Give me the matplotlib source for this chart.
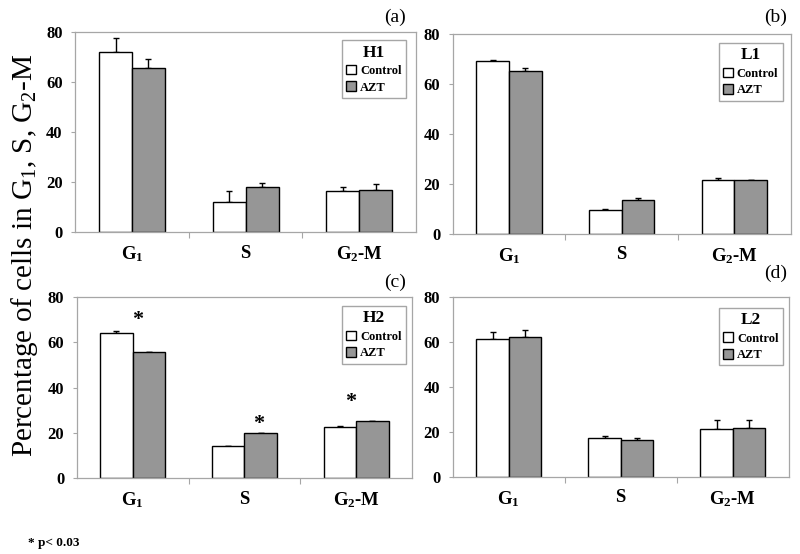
import numpy as np
import matplotlib
matplotlib.use("Agg")
import matplotlib.pyplot as plt

plt.rcParams['font.family'] = ['Liberation Serif', 'DejaVu Serif']
plt.rcParams['mathtext.fontset'] = 'custom'
plt.rcParams['mathtext.rm'] = 'Liberation Serif'
plt.rcParams['mathtext.bf'] = 'Liberation Serif:bold'
plt.rcParams['mathtext.it'] = 'Liberation Serif:italic'

# phases on the x axis
phases = [r'$\mathbf{G_1}$', r'$\mathbf{S}$', r'$\mathbf{G_2}$-M']
panels = ['(a)', '(b)', '(c)', '(d)']
cell_lines = ['H1', 'L1', 'H2', 'L2']

# mean percentages, control vs AZT
control_mean = [
    [71.9, 12.0, 16.4],
    [69.2, 9.5, 21.7],
    [64.1, 14.1, 22.5],
    [61.3, 17.3, 21.3],
]
azt_mean = [
    [65.6, 18.0, 16.8],
    [65.2, 13.6, 21.7],
    [55.8, 19.9, 25.0],
    [62.1, 16.4, 21.8],
]
# upper error bars
control_err = [
    [5.7, 4.4, 1.6],
    [0.2, 0.5, 0.5],
    [1.0, 0.0, 0.7],
    [3.3, 0.8, 4.2],
]
azt_err = [
    [3.6, 1.5, 2.4],
    [1.3, 0.8, 0.0],
    [0.0, 0.0, 0.3],
    [3.1, 0.9, 3.7],
]

# significance stars in panel (c): (x position, y value)
star_x = [0.045, 1.125, 1.955]
star_y = [70.0, 24.0, 33.5]

yticks = [0, 20, 40, 60, 80]

grey_line = '#a6a6a6'
azt_color = '#969696'

fig = plt.figure(figsize=(8, 5.54), dpi=100)

# axes rectangles in figure fractions
rects = [
    [0.094, 0.581, 0.426, 0.361],
    [0.566, 0.578, 0.4225, 0.361],
    [0.096, 0.137, 0.419, 0.327],
    [0.566, 0.139, 0.420, 0.325],
]
legend_anchor = [(0.971, 0.96), (0.976, 0.955), (0.982, 0.95), (0.982, 0.94)]
label_pos = [(0.494, 0.969), (0.969, 0.969), (0.494, 0.491), (0.969, 0.506)]

w = 0.29
x = np.arange(len(phases))

for i in range(4):
    ax = fig.add_axes(rects[i])
    ax.bar(x - w / 2, control_mean[i], w, color='white', edgecolor='black',
           linewidth=1.0, label='Control', zorder=2)
    ax.bar(x + w / 2, azt_mean[i], w, color=azt_color, edgecolor='black',
           linewidth=1.0, label='AZT', zorder=2)
    ax.errorbar(x - w / 2, control_mean[i],
                yerr=[np.zeros(3), control_err[i]], fmt='none',
                ecolor='black', elinewidth=1.0, capsize=2, zorder=1)
    ax.errorbar(x + w / 2, azt_mean[i],
                yerr=[np.zeros(3), azt_err[i]], fmt='none',
                ecolor='black', elinewidth=1.0, capsize=2, zorder=1)

    ax.set_xlim(-0.5, 2.5)
    ax.set_ylim(0, 80)
    ax.set_yticks(yticks)
    ax.set_yticklabels([str(t) for t in yticks], fontsize=12, fontweight='bold')
    ax.tick_params(axis='y', length=3, color=grey_line, pad=6)

    # boundary ticks + phase labels as minor ticks
    ax.set_xticks([0.5, 1.5])
    ax.set_xticklabels([])
    ax.tick_params(axis='x', which='major', length=4, color=grey_line, direction='out')
    ax.set_xticks(x, minor=True)
    ax.set_xticklabels(phases, minor=True, fontsize=13.5, fontweight='bold')
    ax.tick_params(axis='x', which='minor', length=0, pad=9)

    for sp in ax.spines.values():
        sp.set_color(grey_line)
        sp.set_linewidth(0.9)

    leg = ax.legend(title=cell_lines[i], loc='upper right',
                    bbox_to_anchor=legend_anchor[i], borderaxespad=0,
                    prop={'weight': 'bold', 'size': 9},
                    handlelength=0.8, handleheight=0.8, handletextpad=0.3,
                    labelspacing=0.35, borderpad=0.35, fancybox=False,
                    framealpha=1, edgecolor=grey_line)
    leg.get_title().set_fontweight('bold')
    leg.get_title().set_fontsize(12.5)

    fig.text(label_pos[i][0], label_pos[i][1], panels[i], fontsize=14,
             ha='center', va='center')

    if i == 2:
        for sx, sy in zip(star_x, star_y):
            ax.text(sx, sy, '*', fontsize=16, fontweight='bold',
                    ha='center', va='center')

fig.text(0.031, 0.54, r'Percentage of cells in $\mathrm{G_1}$, S, $\mathrm{G_2}$-M',
         rotation=90, fontsize=21, ha='center', va='center')
fig.text(0.035, 0.02, '* p< 0.03', fontsize=9.5, fontweight='bold',
         ha='left', va='center')

fig.savefig('out.png', dpi=100)
